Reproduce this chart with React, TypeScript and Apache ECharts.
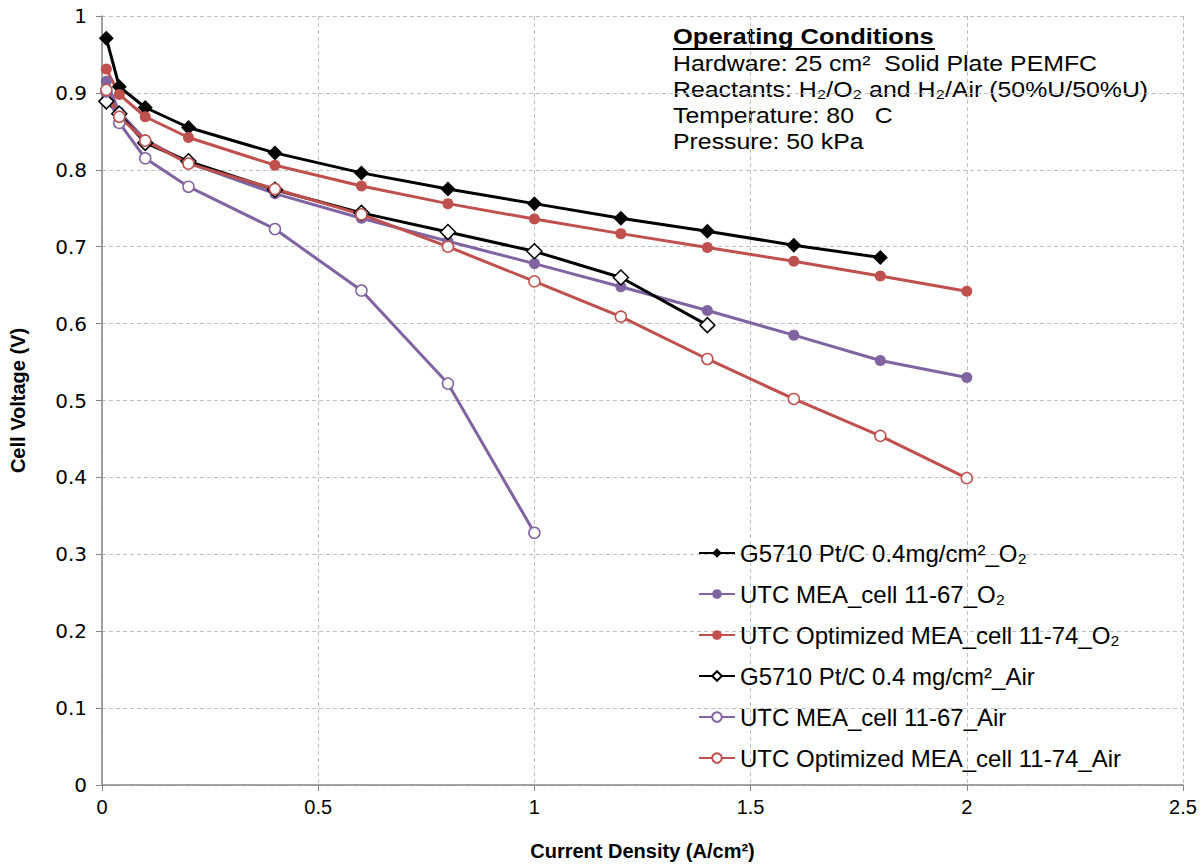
import React, { useEffect, useRef } from "react";
import * as echarts from "echarts";

const xAll = [0.01, 0.04, 0.1, 0.2, 0.4, 0.6, 0.8, 1.0, 1.2, 1.4, 1.6, 1.8, 2.0];

const g5710O2 = [0.971, 0.908, 0.881, 0.855, 0.822, 0.796, 0.775, 0.756, 0.737, 0.72, 0.702, 0.686];
const utc67O2 = [0.915, 0.875, 0.839, 0.809, 0.769, 0.737, 0.707, 0.678, 0.648, 0.617, 0.585, 0.552, 0.53];
const utc74O2 = [0.931, 0.898, 0.869, 0.842, 0.806, 0.779, 0.756, 0.736, 0.717, 0.699, 0.681, 0.662, 0.642];
const g5710Air = [0.889, 0.873, 0.835, 0.811, 0.774, 0.744, 0.719, 0.694, 0.66, 0.598];
const utc67Air = [0.902, 0.861, 0.815, 0.778, 0.723, 0.643, 0.522, 0.328];
const utc74Air = [0.904, 0.869, 0.838, 0.808, 0.775, 0.742, 0.7, 0.655, 0.609, 0.554, 0.502, 0.454, 0.399];

const seriesNames = [
  "G5710 Pt/C 0.4mg/cm²_O₂",
  "UTC MEA_cell 11-67_O₂",
  "UTC Optimized MEA_cell 11-74_O₂",
  "G5710 Pt/C 0.4 mg/cm²_Air",
  "UTC MEA_cell 11-67_Air",
  "UTC Optimized MEA_cell 11-74_Air",
];

const noteTitle = "Operating Conditions";
const notes = [
  "Hardware: 25 cm²  Solid Plate PEMFC",
  "Reactants: H₂/O₂ and H₂/Air (50%U/50%U)",
  "Temperature: 80   C",
  "Pressure: 50 kPa",
];

const BLACK = "#000000";
const PURPLE = "#8064A2";
const RED = "#C0504D";
const FONT = "'Liberation Sans', Arial, sans-serif";
const WIDE = "'DejaVu Sans', 'Liberation Sans', sans-serif";

const pair = (ys: number[]) => ys.map((y, i) => [xAll[i], y]);

export default function App() {
  const ref = useRef<HTMLDivElement>(null);
  useEffect(() => {
    if (!ref.current) return;
    const chart = echarts.init(ref.current, null, { renderer: "svg" });
    const mk = (
      name: string,
      data: number[][],
      color: string,
      symbol: string,
      size: number,
      hollow: boolean
    ) => ({
      name,
      type: "line",
      data,
      symbol,
      symbolSize: size,
      showAllSymbol: true,
      lineStyle: { color, width: 3 },
      itemStyle: hollow
        ? { color: "#ffffff", borderColor: color, borderWidth: 1.5 }
        : { color, borderColor: color, borderWidth: 0 },
      emphasis: { disabled: true },
    });
    chart.setOption({
      animation: false,
      backgroundColor: "#ffffff",
      textStyle: { fontFamily: FONT },
      grid: { left: 102, right: 21, top: 16, bottom: 79, containLabel: false },
      xAxis: {
        type: "value",
        min: 0,
        max: 2.5,
        interval: 0.5,
        name: "Current Density (A/cm²)",
        nameLocation: "middle",
        nameGap: 56,
        nameTextStyle: { fontFamily: FONT, fontSize: 20, fontWeight: "bold", color: "#000" },
        axisLine: { onZero: false, lineStyle: { color: "#868686", width: 1.5 } },
        axisTick: { show: true, inside: false, length: 6, lineStyle: { color: "#868686" } },
        axisLabel: { fontFamily: FONT, fontSize: 20, color: "#000", margin: 12 },
        splitLine: { show: true, lineStyle: { color: "#BFBFBF", type: [4, 3], width: 1 } },
      },
      yAxis: {
        type: "value",
        min: 0,
        max: 1,
        interval: 0.1,
        name: "Cell Voltage (V)",
        nameLocation: "middle",
        nameGap: 74,
        nameRotate: 90,
        nameTextStyle: { fontFamily: FONT, fontSize: 20, fontWeight: "bold", color: "#000" },
        axisLine: { show: true, lineStyle: { color: "#868686", width: 1.5 } },
        axisTick: { show: true, inside: false, length: 6, lineStyle: { color: "#868686" } },
        axisLabel: { fontFamily: WIDE, fontSize: 20, color: "#000", margin: 15 },
        splitLine: { show: true, lineStyle: { color: "#BFBFBF", type: [4, 3], width: 1 } },
      },
      legend: {
        orient: "vertical",
        left: 698,
        top: 541,
        itemWidth: 36,
        itemHeight: 12,
        itemGap: 17,
        padding: 0,
        selectedMode: false,
        textStyle: { fontFamily: FONT, fontSize: 24, color: "#000", lineHeight: 24, padding: [0, 0, 0, 0] },
        data: seriesNames,
      },
      graphic: [
        {
          type: "text",
          x: 673,
          y: 25,
          scaleX: 1.16,
          style: { text: noteTitle, font: `bold 22px ${FONT}`, fill: "#000" },
        },
        {
          type: "line",
          shape: { x1: 673, y1: 49, x2: 935, y2: 49 },
          style: { stroke: "#000", lineWidth: 2 },
        },
        ...notes.map((t, i) => ({
          type: "text",
          x: 673,
          y: 52 + i * 26,
          scaleX: 1.13,
          style: { text: t, font: `22px ${FONT}`, fill: "#000" },
        })),
      ],
      series: [
        mk(seriesNames[0], pair(g5710O2), BLACK, "diamond", 15, false),
        mk(seriesNames[1], pair(utc67O2), PURPLE, "circle", 11, false),
        mk(seriesNames[2], pair(utc74O2), RED, "circle", 11, false),
        mk(seriesNames[3], pair(g5710Air), BLACK, "diamond", 15, true),
        mk(seriesNames[4], pair(utc67Air), PURPLE, "circle", 11, true),
        mk(seriesNames[5], pair(utc74Air), RED, "circle", 11, true),
      ],
    });
    return () => chart.dispose();
  }, []);
  return (
    <div
      ref={ref}
      style={{ position: "fixed", left: 0, top: 0, width: 1204, height: 866, background: "#fff" }}
    />
  );
}
